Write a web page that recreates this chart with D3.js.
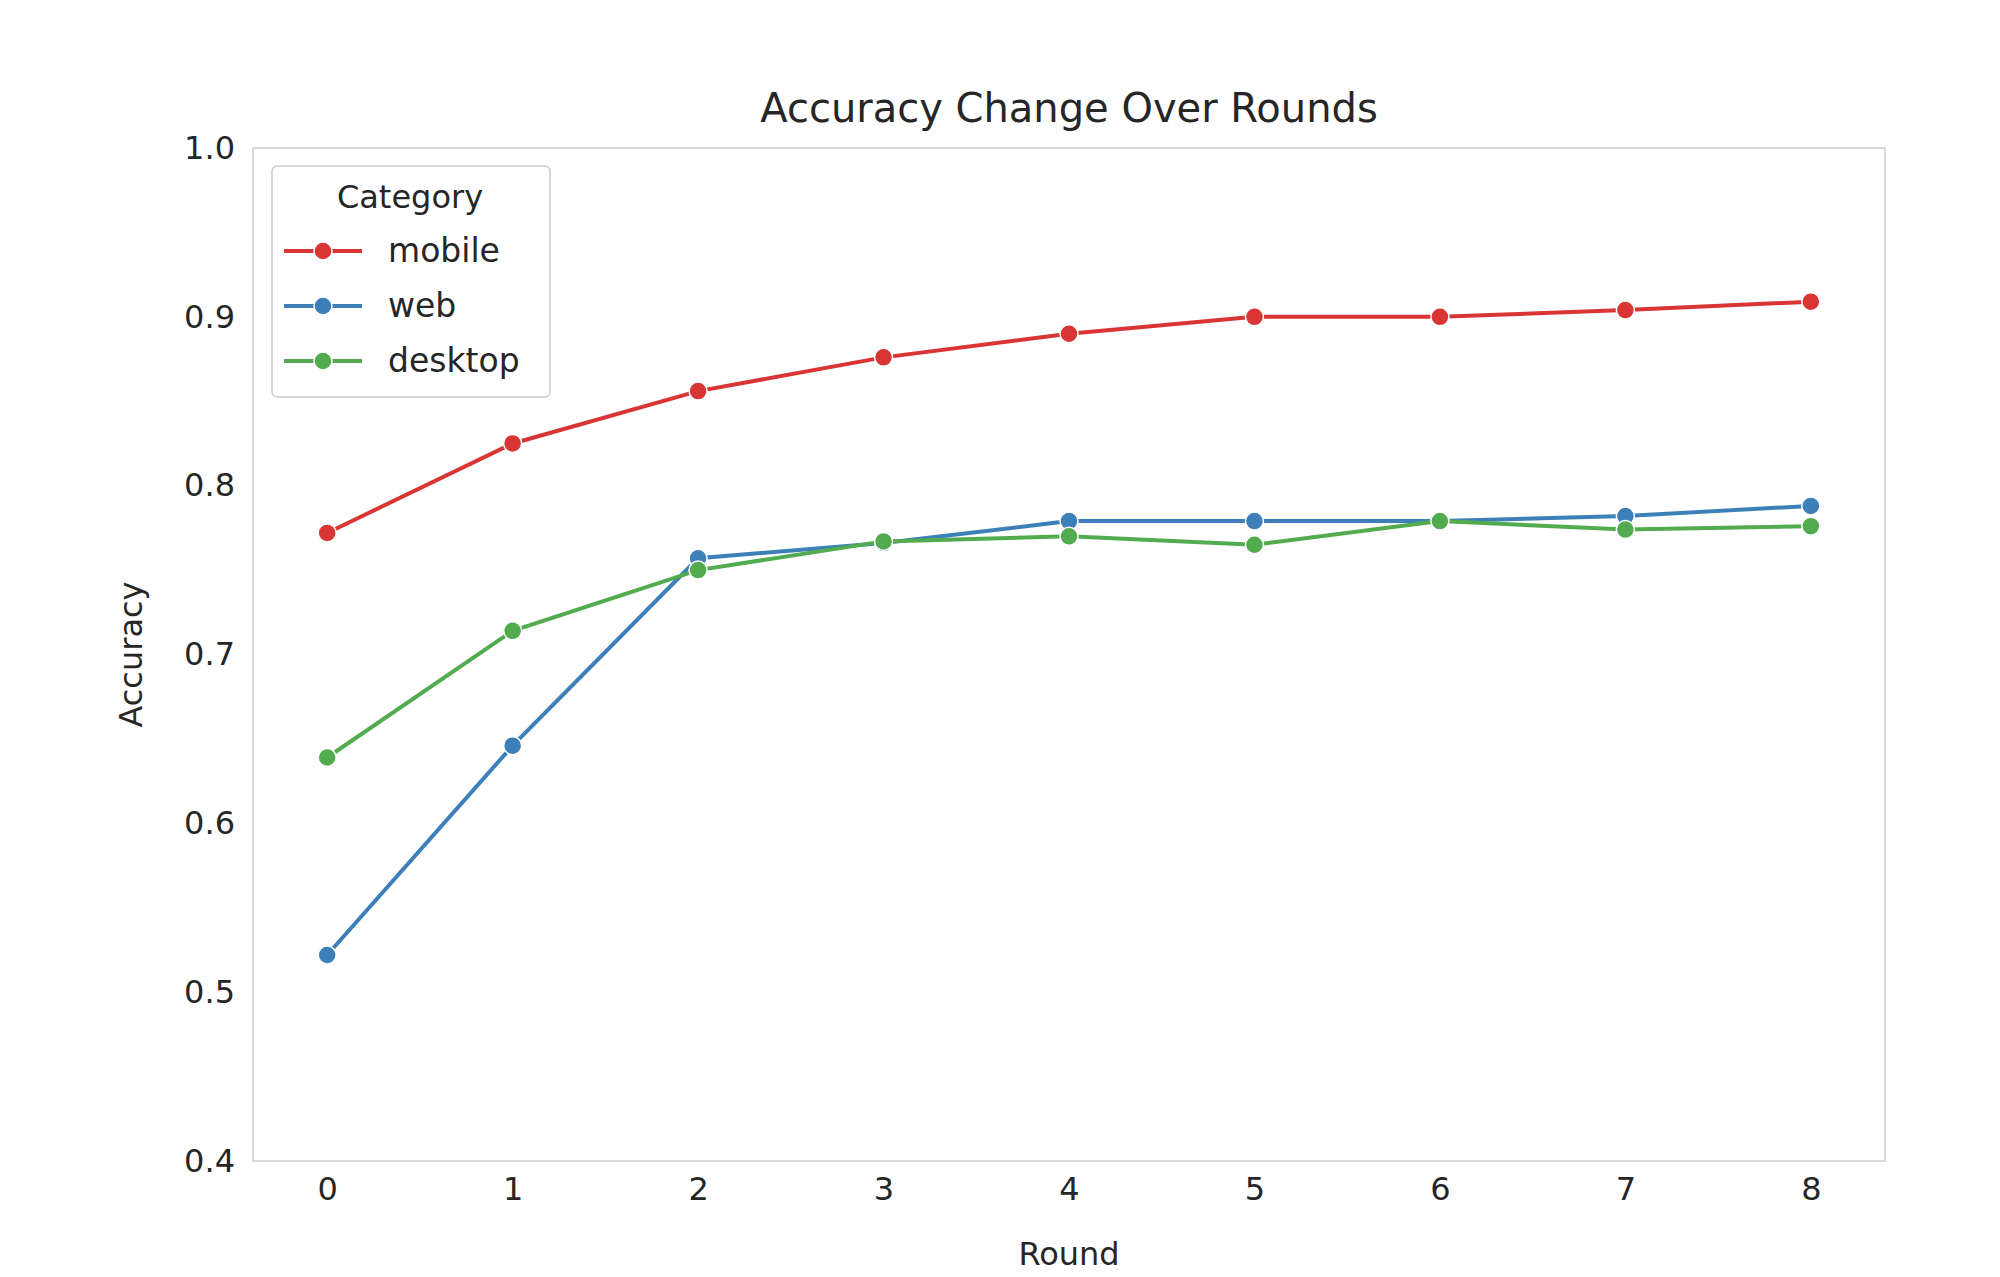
<!DOCTYPE html>
<html><head><meta charset="utf-8">
<script src="https://cdn.jsdelivr.net/npm/d3@7"></script>
<style>body{margin:0;background:#fff}text{font-family:"DejaVu Sans",sans-serif;fill:#262626}</style>
</head><body><svg id="c" width="2000" height="1277"></svg>
<script>
const rounds=[0,1,2,3,4,5,6,7,8];
const categories=["mobile","web","desktop"];
const mobile=[0.772,0.825,0.856,0.876,0.890,0.900,0.900,0.904,0.909];
const web=[0.522,0.646,0.757,0.766,0.779,0.779,0.779,0.782,0.788];
const desktop=[0.639,0.714,0.750,0.767,0.770,0.765,0.779,0.774,0.776];
const yTicks=[0.4,0.5,0.6,0.7,0.8,0.9,1.0];
const colors=["#d93535","#3d7fb8","#52ab4f"];
const series=[mobile,web,desktop];
const svg=d3.select("#c");
const L=253,R=1885,T=148,B=1161;
const x=d3.scaleLinear().domain([-0.4,8.4]).range([L,R]);
const y=d3.scaleLinear().domain([0.4,1.0]).range([B,T]);
svg.append("rect").attr("x",L).attr("y",T).attr("width",R-L).attr("height",B-T).attr("fill","none").attr("stroke","#cccccc").attr("stroke-width",1.5);
const ax=svg.append("g").attr("transform",`translate(0,${B})`).call(d3.axisBottom(x).tickValues(rounds).tickSize(0).tickPadding(16).tickFormat(d3.format("d")));
const ay=svg.append("g").attr("transform",`translate(${L},0)`).call(d3.axisLeft(y).tickValues(yTicks).tickSize(0).tickPadding(18).tickFormat(d3.format(".1f")));
[ax,ay].forEach(a=>{a.select(".domain").remove();a.selectAll("text").attr("font-size",32).attr("font-family","DejaVu Sans").attr("fill","#262626");});
svg.append("text").attr("x",(L+R)/2).attr("y",122).attr("text-anchor","middle").attr("font-size",40).text("Accuracy Change Over Rounds");
svg.append("text").attr("x",(L+R)/2).attr("y",1265).attr("text-anchor","middle").attr("font-size",32).text("Round");
svg.append("text").attr("transform",`translate(142,${(T+B)/2}) rotate(-90)`).attr("text-anchor","middle").attr("font-size",32).text("Accuracy");
const line=d3.line().x((d,i)=>x(rounds[i])).y(d=>y(d));
series.forEach((s,k)=>{
 svg.append("path").datum(s).attr("d",line).attr("fill","none").attr("stroke",colors[k]).attr("stroke-width",4);
 svg.selectAll(null).data(s).enter().append("circle").attr("cx",(d,i)=>x(rounds[i])).attr("cy",d=>y(d)).attr("r",9).attr("fill",colors[k]).attr("stroke","#fff").attr("stroke-width",1.5);
});
const lg=svg.append("g");
lg.append("rect").attr("x",272).attr("y",166).attr("width",278).attr("height",231).attr("rx",5).attr("fill","#fff").attr("stroke","#cccccc").attr("stroke-width",1.5);
lg.append("text").attr("x",410).attr("y",208).attr("text-anchor","middle").attr("font-size",32).text("Category");
categories.forEach((c,k)=>{
 const yy=251+k*55;
 lg.append("line").attr("x1",284).attr("x2",362).attr("y1",yy).attr("y2",yy).attr("stroke",colors[k]).attr("stroke-width",4);
 lg.append("circle").attr("cx",323).attr("cy",yy).attr("r",9).attr("fill",colors[k]).attr("stroke","#fff").attr("stroke-width",1.5);
 lg.append("text").attr("x",388).attr("y",yy+11).attr("font-size",33).text(c);
});
</script></body></html>
